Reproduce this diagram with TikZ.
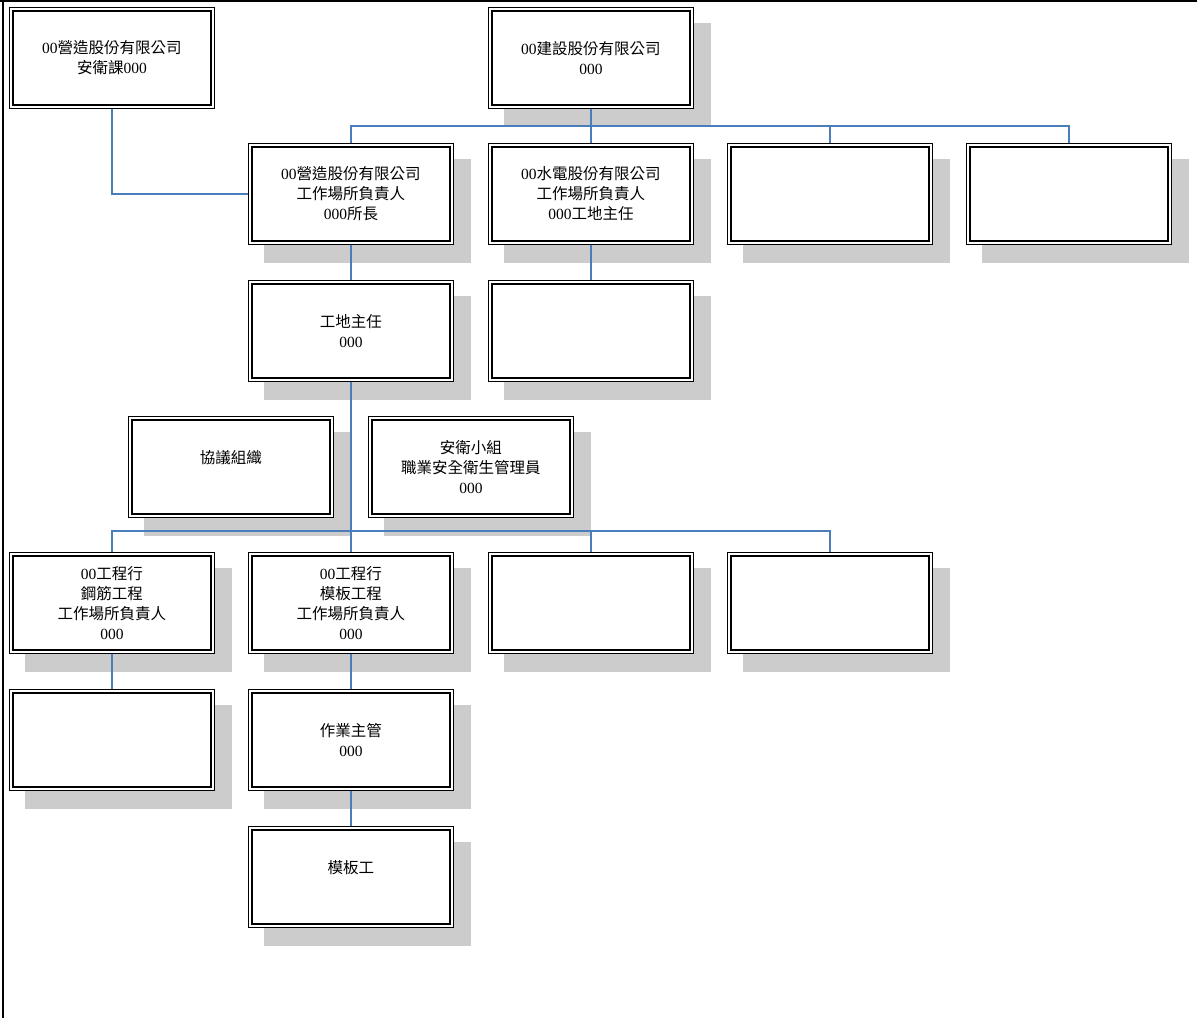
\documentclass[tikz,border=0pt]{standalone}
\usepackage{fontspec}
\setmainfont{Liberation Serif}
\newfontfamily\cjk{Noto Sans CJK TC}
\newcommand\zh[1]{{\cjk #1}}
\definecolor{shadowgray}{HTML}{CCCCCC}
\definecolor{linkblue}{HTML}{4A7EBB}
\newcommand\orgshadow[2]{\fill[shadowgray] (#1+16,#2+16) rectangle (#1+223,#2+119.5);}
\newcommand\orgbox[4]{%
  \node[orgnode] (#1) at (#2,#3) {#4};
  \draw[line width=1.7pt] ([shift={(4,4)}]#1.north west) rectangle ([shift={(-4,-4)}]#1.south east);
}
\begin{document}
\begin{tikzpicture}[x=1pt,y=-1pt,
  orgnode/.style={draw=black, line width=0.9pt, fill=white, minimum width=205pt,
    minimum height=101pt, anchor=north west, inner sep=0pt, align=center,
    font=\fontsize{15.5}{20}\selectfont},
  conn/.style={draw=linkblue, line width=1.4pt}]
\useasboundingbox (0,0) rectangle (1197,1018);
% frame
\draw[line width=2pt] (0,1.2) -- (1197,1.2);
\draw[line width=2pt] (2.5,0) -- (2.5,1018);
% shadows
\orgshadow{488}{7}
\orgshadow{248}{143}\orgshadow{488}{143}\orgshadow{727}{143}\orgshadow{966}{143}
\orgshadow{248}{280}\orgshadow{488}{280}
\orgshadow{128}{416}\orgshadow{368}{416}
\orgshadow{9}{552}\orgshadow{248}{552}\orgshadow{488}{552}\orgshadow{727}{552}
\orgshadow{9}{689}\orgshadow{248}{689}
\orgshadow{248}{826}
% boxes
\orgbox{safety}{9}{7}{00\zh{營造股份有限公司}\\\zh{安衛課}000}
\orgbox{owner}{488}{7}{00\zh{建設股份有限公司}\\000}
\orgbox{gc}{248}{143}{00\zh{營造股份有限公司}\\\zh{工作場所負責人}\\000\zh{所長}}
\orgbox{elec}{488}{143}{00\zh{水電股份有限公司}\\\zh{工作場所負責人}\\000\zh{工地主任}}
\orgbox{emptyc}{727}{143}{}
\orgbox{emptyd}{966}{143}{}
\orgbox{site}{248}{280}{\zh{工地主任}\\000}
\orgbox{elecsub}{488}{280}{}
\orgbox{council}{128}{416}{\zh{協議組織}\\\mbox{}}
\orgbox{team}{368}{416}{\zh{安衛小組}\\\zh{職業安全衛生管理員}\\000}
\orgbox{rebar}{9}{552}{00\zh{工程行}\\\zh{鋼筋工程}\\\zh{工作場所負責人}\\000}
\orgbox{form}{248}{552}{00\zh{工程行}\\\zh{模板工程}\\\zh{工作場所負責人}\\000}
\orgbox{subc}{488}{552}{}
\orgbox{subd}{727}{552}{}
\orgbox{rebarsub}{9}{689}{}
\orgbox{foreman}{248}{689}{\zh{作業主管}\\000}
\orgbox{worker}{248}{826}{\zh{模板工}\\\mbox{}}
% connectors
\coordinate (busA) at (0,126);
\coordinate (busB) at (0,531);
\draw[conn] (owner.south) -- (owner.south |- busA);
\draw[conn] (gc.north) -- (gc.north |- busA) -- (emptyd.north |- busA) -- (emptyd.north);
\draw[conn] (elec.north) -- (elec.north |- busA);
\draw[conn] (emptyc.north) -- (emptyc.north |- busA);
\draw[conn] (safety.south) |- (gc.west);
\draw[conn] (gc.south) -- (site.north);
\draw[conn] (elec.south) -- (elecsub.north);
\draw[conn] (site.south) -- (form.north);
\draw[conn] (rebar.north) -- (rebar.north |- busB) -- (subd.north |- busB) -- (subd.north);
\draw[conn] (subc.north) -- (subc.north |- busB);
\draw[conn] (rebar.south) -- (rebarsub.north);
\draw[conn] (form.south) -- (foreman.north);
\draw[conn] (foreman.south) -- (worker.north);
\end{tikzpicture}
\end{document}
